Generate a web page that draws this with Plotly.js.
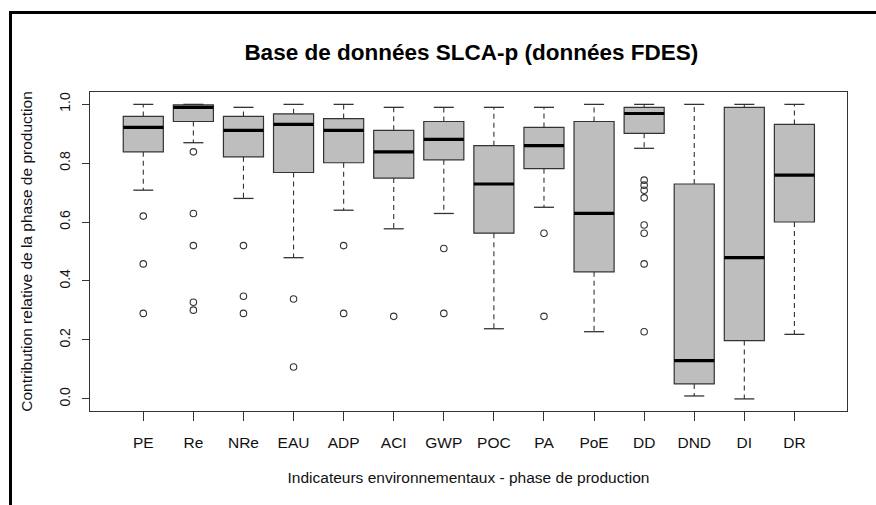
<!DOCTYPE html>
<html>
<head>
<meta charset="utf-8">
<script src="https://cdn.plot.ly/plotly-3.0.1.min.js"></script>
<style>
  html, body { margin: 0; padding: 0; background: #fff; }
  #wrap { position: relative; width: 876px; height: 505px; overflow: hidden; }
  #chart { width: 876px; height: 505px; }
  #frame { position: absolute; left: 9px; top: 11px; width: 900px; height: 600px;
           border-left: 3px solid #000; border-top: 3px solid #000; pointer-events: none; }
</style>
</head>
<body>
<div id="wrap">
  <div id="chart"></div>
  <div id="frame"></div>
</div>
<script>
// ---- data ----
var categories = ['PE','Re','NRe','EAU','ADP','ACI','GWP','POC','PA','PoE','DD','DND','DI','DR'];
var lowerWhisker = [0.708,0.869,0.680,0.479,0.640,0.577,0.629,0.238,0.650,0.228,0.850,0.010,0.000,0.219];
var q1Values     = [0.838,0.941,0.821,0.768,0.801,0.749,0.811,0.562,0.781,0.431,0.901,0.051,0.198,0.600];
var medianValues = [0.921,0.989,0.911,0.931,0.911,0.838,0.880,0.729,0.859,0.629,0.968,0.130,0.479,0.759];
var q3Values     = [0.958,0.997,0.958,0.967,0.951,0.911,0.941,0.859,0.921,0.941,0.989,0.729,0.989,0.931];
var upperWhisker = [0.999,0.999,0.989,0.999,0.999,0.989,0.989,0.989,0.989,0.999,0.999,0.999,0.999,0.999];
var outliers = [
  [0.620,0.458,0.290],
  [0.838,0.629,0.520,0.328,0.301],
  [0.520,0.348,0.290],
  [0.339,0.108],
  [0.520,0.290],
  [0.280],
  [0.510,0.290],
  [],
  [0.562,0.280],
  [],
  [0.742,0.725,0.708,0.682,0.590,0.562,0.458,0.228],
  [],
  [],
  []
];
var yTickValues = [0, 0.2, 0.4, 0.6, 0.8, 1.0];
var yTickLabels = ['0.0','0.2','0.4','0.6','0.8','1.0'];

// ---- build traces ----
var pos = categories.map(function(_, i){ return i; });
var boxHalf = 0.4, capHalf = 0.2;
var edge = '#333333';

var boxTrace = {
  type: 'box', x: pos,
  q1: q1Values, median: medianValues, q3: q3Values,
  lowerfence: q1Values, upperfence: q3Values,
  width: 2 * boxHalf, whiskerwidth: 0,
  fillcolor: '#bebebe', line: { color: edge, width: 1.2 },
  boxpoints: false, hoverinfo: 'skip', showlegend: false
};

var wx = [], wy = [], cx = [], cy = [], mx = [], my = [], ox = [], oy = [];
pos.forEach(function(i){
  wx.push(i, i, null, i, i, null);
  wy.push(q3Values[i], upperWhisker[i], null, q1Values[i], lowerWhisker[i], null);
  cx.push(i - capHalf, i + capHalf, null, i - capHalf, i + capHalf, null);
  cy.push(upperWhisker[i], upperWhisker[i], null, lowerWhisker[i], lowerWhisker[i], null);
  mx.push(i - boxHalf, i + boxHalf, null);
  my.push(medianValues[i], medianValues[i], null);
  outliers[i].forEach(function(v){ ox.push(i); oy.push(v); });
});

var whiskers = { type: 'scatter', mode: 'lines', x: wx, y: wy, connectgaps: false,
  line: { color: edge, width: 1.1, dash: '5px,4px' }, hoverinfo: 'skip', showlegend: false };
var caps = { type: 'scatter', mode: 'lines', x: cx, y: cy, connectgaps: false,
  line: { color: edge, width: 1.3 }, hoverinfo: 'skip', showlegend: false };
var medians = { type: 'scatter', mode: 'lines', x: mx, y: my, connectgaps: false,
  line: { color: '#000', width: 3.2 }, hoverinfo: 'skip', showlegend: false };
var outPts = { type: 'scatter', mode: 'markers', x: ox, y: oy,
  marker: { symbol: 'circle-open', size: 6.5, color: edge, line: { width: 1.1, color: edge } },
  hoverinfo: 'skip', showlegend: false };

var font = 'Liberation Sans, Arial, sans-serif';
var layout = {
  width: 876, height: 505,
  margin: { l: 90, r: 29, t: 92, b: 94 },
  paper_bgcolor: '#fff', plot_bgcolor: '#fff',
  font: { family: font, color: '#111', size: 14 },
  title: { text: '<b>Base de données SLCA-p (données FDES)</b>',
           font: { family: font, size: 22.5, color: '#000' },
           x: 0.538, xref: 'container', xanchor: 'center',
           y: 1 - 52 / 505, yref: 'container', yanchor: 'middle' },
  xaxis: {
    type: 'linear', range: [-1.064, 14.05],
    tickmode: 'array', tickvals: pos, ticktext: categories,
    ticks: 'outside', ticklen: 9, tickwidth: 1, tickcolor: edge,
    tickfont: { size: 15.5, color: '#111' }, ticklabelstandoff: 8,
    showgrid: false, zeroline: false,
    showline: true, linecolor: edge, linewidth: 1, mirror: true,
    title: { text: 'Indicateurs environnementaux - phase de production',
             font: { size: 15.5, color: '#111' }, standoff: 22 }
  },
  yaxis: {
    range: [-0.041, 1.041],
    tickmode: 'array', tickvals: yTickValues, ticktext: yTickLabels,
    tickangle: -90,
    ticks: 'outside', ticklen: 7, tickwidth: 1, tickcolor: edge,
    tickfont: { size: 14, color: '#111' }, ticklabelstandoff: 6,
    showgrid: false, zeroline: false,
    showline: true, linecolor: edge, linewidth: 1, mirror: true,
    title: { text: 'Contribution relative de la phase de production',
             font: { size: 15.5, color: '#111' }, standoff: 20 }
  }
};

Plotly.newPlot('chart', [boxTrace, whiskers, caps, medians, outPts], layout,
  { staticPlot: true, displayModeBar: false });
</script>
</body>
</html>
